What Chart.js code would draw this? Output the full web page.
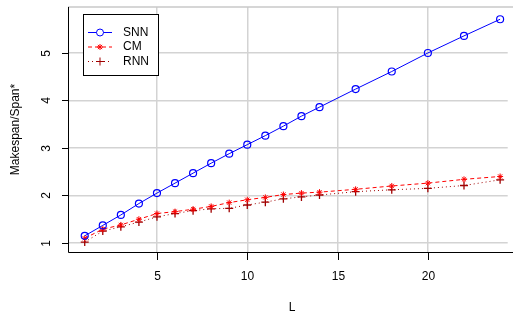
<!DOCTYPE html>
<html>
<head>
<meta charset="utf-8">
<script src="https://cdn.jsdelivr.net/npm/chart.js@4/dist/chart.umd.min.js"></script>
<style>
  html, body { margin: 0; padding: 0; background: #fff; }
  #wrap { width: 513px; height: 320px; }
</style>
</head>
<body>
<div id="wrap"><canvas id="chart" width="513" height="320"></canvas></div>
<script>
// data
const L = [1, 2, 3, 4, 5, 6, 7, 8, 9, 10, 11, 12, 13, 14, 16, 18, 20, 22, 24];
const snn = [1.15, 1.37, 1.59, 1.83, 2.05, 2.26, 2.47, 2.68, 2.88, 3.07, 3.26, 3.46, 3.67, 3.86, 4.24, 4.61, 5.0, 5.36, 5.71];
const cm = [1.1, 1.29, 1.38, 1.5, 1.62, 1.66, 1.71, 1.77, 1.85, 1.91, 1.96, 2.02, 2.05, 2.07, 2.13, 2.2, 2.26, 2.34, 2.4];
const rnn = [1.02, 1.25, 1.34, 1.44, 1.55, 1.62, 1.68, 1.72, 1.73, 1.8, 1.86, 1.93, 1.97, 2.01, 2.08, 2.12, 2.15, 2.21, 2.33];
const xTicks = [5, 10, 15, 20];
const yTicks = [1, 2, 3, 4, 5];
const seriesNames = ['SNN', 'CM', 'RNN'];

const FONT = '12px "Liberation Sans", Arial, sans-serif';

const toPoints = ys => L.map((x, i) => ({ x: x, y: ys[i] }));

// axes, labels and legend drawn the R way
const rAxes = {
    id: 'rAxes',
    afterDraw(chart) {
        const ctx = chart.ctx;
        const area = chart.chartArea;
        const xs = chart.scales.x;
        const ys = chart.scales.y;
        const right = chart.width;
        ctx.save();

        // gray top border
        ctx.strokeStyle = '#c8c8c8';
        ctx.lineWidth = 1.5;
        ctx.beginPath();
        ctx.moveTo(area.left, area.top);
        ctx.lineTo(right, area.top);
        ctx.stroke();

        // black L-shaped box
        ctx.strokeStyle = '#000';
        ctx.lineWidth = 1;
        ctx.beginPath();
        ctx.moveTo(area.left + 0.5, area.top);
        ctx.lineTo(area.left + 0.5, area.bottom + 0.5);
        ctx.lineTo(right, area.bottom + 0.5);
        ctx.stroke();

        ctx.fillStyle = '#000';
        ctx.font = FONT;

        // x ticks
        ctx.textAlign = 'center';
        ctx.textBaseline = 'middle';
        xTicks.forEach(v => {
            const px = Math.round(xs.getPixelForValue(v)) + 0.5;
            ctx.beginPath();
            ctx.moveTo(px, area.bottom);
            ctx.lineTo(px, area.bottom + 8);
            ctx.stroke();
            ctx.fillText(String(v), px, 277);
        });

        // y ticks, labels turned like R
        yTicks.forEach(v => {
            const py = Math.round(ys.getPixelForValue(v)) + 0.5;
            ctx.beginPath();
            ctx.moveTo(area.left - 6, py);
            ctx.lineTo(area.left, py);
            ctx.stroke();
            ctx.save();
            ctx.translate(47, py);
            ctx.rotate(-Math.PI / 2);
            ctx.fillText(String(v), 0, 0);
            ctx.restore();
        });

        // axis titles
        ctx.fillText('L', 292, 308);
        ctx.save();
        ctx.translate(16, (area.top + area.bottom) / 2);
        ctx.rotate(-Math.PI / 2);
        ctx.fillText('Makespan/Span*', 0, 0);
        ctx.restore();

        // legend
        const bx = 83, by = 14, bw = 75, bh = 61;
        ctx.fillStyle = '#fff';
        ctx.fillRect(bx, by, bw, bh);
        ctx.strokeStyle = '#000';
        ctx.lineWidth = 1;
        ctx.strokeRect(bx + 0.5, by + 0.5, bw, bh);

        const rows = [32.5, 47, 61.5];
        chart.data.datasets.forEach((ds, i) => {
            const y = rows[i];
            ctx.strokeStyle = ds.borderColor;
            ctx.lineWidth = 1;
            ctx.setLineDash(ds.borderDash || []);
            ctx.beginPath();
            ctx.moveTo(88, y);
            ctx.lineTo(112, y);
            ctx.stroke();
            ctx.setLineDash([]);
            Chart.helpers.drawPoint(ctx, {
                pointStyle: ds.pointStyle,
                radius: ds.pointRadius,
                rotation: 0,
                borderWidth: ds.pointBorderWidth
            }, 100, y);
            ctx.fillStyle = '#000';
            ctx.textAlign = 'left';
            ctx.fillText(seriesNames[i], 123, y);
        });

        ctx.restore();
    }
};

new Chart(document.getElementById('chart'), {
    type: 'line',
    data: {
        datasets: [
            {
                label: seriesNames[0],
                data: toPoints(snn),
                borderColor: '#0000ff',
                backgroundColor: 'rgba(0,0,0,0)',
                borderWidth: 1,
                pointStyle: 'circle',
                pointRadius: 3.5,
                pointBorderWidth: 1.2,
                pointBorderColor: '#0000ff',
                pointBackgroundColor: 'rgba(0,0,0,0)'
            },
            {
                label: seriesNames[1],
                data: toPoints(cm),
                borderColor: '#ff0000',
                backgroundColor: '#ff0000',
                borderWidth: 1,
                borderDash: [4, 3],
                pointStyle: 'star',
                pointRadius: 3,
                pointBorderWidth: 1,
                pointBorderColor: '#ff0000'
            },
            {
                label: seriesNames[2],
                data: toPoints(rnn),
                borderColor: '#a00000',
                backgroundColor: '#a00000',
                borderWidth: 1,
                borderDash: [1, 3],
                pointStyle: 'cross',
                pointRadius: 4,
                pointBorderWidth: 1.3,
                pointBorderColor: '#a00000'
            }
        ]
    },
    options: {
        responsive: false,
        animation: false,
        layout: { padding: { top: 7, left: 0, right: 0, bottom: 0 } },
        plugins: {
            legend: { display: false },
            tooltip: { enabled: false }
        },
        scales: {
            x: {
                type: 'linear',
                min: 0.074,
                max: 24.42,
                afterBuildTicks: s => { s.ticks = xTicks.map(v => ({ value: v })); },
                afterFit: s => { s.height = 68; },
                ticks: { display: false },
                border: { display: false },
                grid: { color: '#d3d3d3', lineWidth: 1.5, drawTicks: false }
            },
            y: {
                type: 'linear',
                min: 0.81,
                max: 5.968,
                afterBuildTicks: s => { s.ticks = yTicks.map(v => ({ value: v })); },
                afterFit: s => { s.width = 68; },
                ticks: { display: false },
                border: { display: false },
                grid: { color: '#d3d3d3', lineWidth: 1.5, drawTicks: false }
            }
        }
    },
    plugins: [rAxes]
});
</script>
</body>
</html>
